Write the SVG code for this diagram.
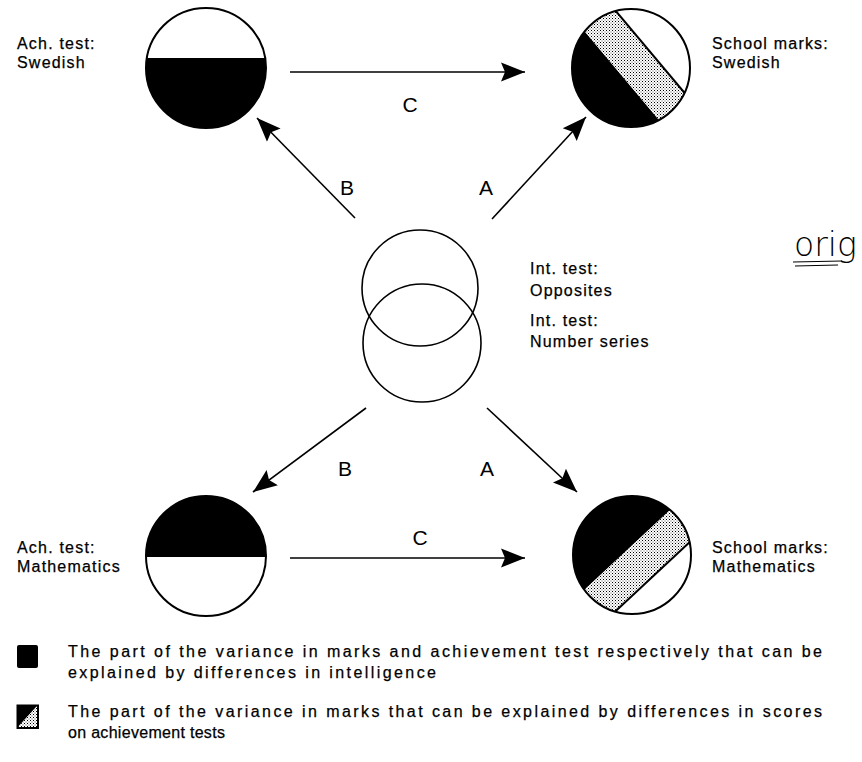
<svg xmlns="http://www.w3.org/2000/svg" width="862" height="762" viewBox="0 0 862 762">
<style>
  .lbl { font-family: "Liberation Sans", Arial, sans-serif; font-size: 16px; letter-spacing: 1.2px; fill: #000; stroke: #000; stroke-width: 0.25px; }
  .leg { font-family: "Liberation Sans", Arial, sans-serif; font-size: 16px; fill: #000; stroke: #000; stroke-width: 0.25px; }
  .let { font-family: "Liberation Sans", Arial, sans-serif; font-size: 21px; fill: #000; text-anchor: middle; }
  .ring { fill: none; stroke: #000; stroke-width: 2; }
  .thin { fill: none; stroke: #000; stroke-width: 1.6; }
  .conn { stroke: #000; stroke-width: 1.6; fill: none; marker-end: url(#head); }
  .div { stroke: #000; stroke-width: 2; }
</style>
<defs>
  <marker id="head" markerUnits="userSpaceOnUse" markerWidth="26" markerHeight="22" refX="24" refY="11" orient="auto">
    <path d="M0,1.5 L24,11 L0,20.5 L4,11 Z" fill="#000"/>
  </marker>
  <pattern id="dots" width="3" height="3" patternUnits="userSpaceOnUse">
    <rect width="3" height="3" fill="#fff"/>
    <rect x="0" y="0" width="1" height="1" fill="#000"/>
    <rect x="1.5" y="1.5" width="1" height="1" fill="#555"/>
  </pattern>
  <clipPath id="cTR"><circle cx="631" cy="68" r="59"/></clipPath>
  <clipPath id="cBR"><circle cx="632" cy="555" r="59"/></clipPath>
  <clipPath id="cTL"><circle cx="206" cy="68" r="60"/></clipPath>
  <clipPath id="cBL"><circle cx="206" cy="556" r="60"/></clipPath>
</defs>
<rect width="862" height="762" fill="#fff"/>

<g id="connectors">
  <line class="conn" x1="290" y1="72" x2="525" y2="72"/>
  <line class="conn" x1="355" y1="218" x2="257" y2="118"/>
  <line class="conn" x1="492" y1="219" x2="586" y2="117"/>
  <line class="conn" x1="366" y1="408" x2="253" y2="492"/>
  <line class="conn" x1="487" y1="408" x2="577" y2="492"/>
  <line class="conn" x1="290" y1="558" x2="525" y2="558"/>
  <text class="let" x="410" y="112">C</text>
  <text class="let" x="347" y="195">B</text>
  <text class="let" x="486" y="195">A</text>
  <text class="let" x="345" y="476">B</text>
  <text class="let" x="487" y="476">A</text>
  <text class="let" x="420" y="545">C</text>
</g>

<g id="ach-swedish">
  <g clip-path="url(#cTL)">
    <rect x="140" y="58" width="135" height="80" fill="#000"/>
  </g>
  <circle class="ring" cx="206" cy="68" r="60"/>
  <text class="lbl" x="17" y="49">Ach. test:</text>
  <text class="lbl" x="17" y="68">Swedish</text>
</g>

<g id="marks-swedish">
  <g clip-path="url(#cTR)">
    <polygon points="686.1,152.3 557.5,-0.9 490.1,55.7 618.7,208.9" fill="#000"/>
    <polygon points="686.1,152.3 557.5,-0.9 585.85,-24.7 714.45,128.5" fill="url(#dots)"/>
    <line class="div" x1="585.85" y1="-24.7" x2="714.45" y2="128.5"/>
  </g>
  <circle class="ring" cx="631" cy="68" r="59"/>
  <text class="lbl" x="712" y="49">School marks:</text>
  <text class="lbl" x="712" y="68">Swedish</text>
</g>

<g id="int-tests">
  <circle class="thin" cx="420" cy="288" r="58"/>
  <circle class="thin" cx="422" cy="343" r="59"/>
  <text class="lbl" x="530" y="274">Int. test:</text>
  <text class="lbl" x="530" y="296">Opposites</text>
  <text class="lbl" x="530" y="326">Int. test:</text>
  <text class="lbl" x="530" y="347">Number series</text>
</g>

<g id="ach-math">
  <g clip-path="url(#cBL)">
    <rect x="140" y="490" width="135" height="67" fill="#000"/>
  </g>
  <circle class="ring" cx="206" cy="556" r="60"/>
  <text class="lbl" x="17" y="553">Ach. test:</text>
  <text class="lbl" x="17" y="572">Mathematics</text>
</g>

<g id="marks-math">
  <g clip-path="url(#cBR)">
    <polygon points="700.2,481.9 554.2,617.9 491,550 637,414" fill="#000"/>
    <polygon points="700.2,481.9 554.2,617.9 579.4,644.9 725.4,508.9" fill="url(#dots)"/>
    <line class="div" x1="579.4" y1="644.9" x2="725.4" y2="508.9"/>
  </g>
  <circle class="ring" cx="632" cy="555" r="59"/>
  <text class="lbl" x="712" y="553">School marks:</text>
  <text class="lbl" x="712" y="572">Mathematics</text>
</g>

<g id="annotation">
  <text x="794" y="256" font-family="'DejaVu Sans', sans-serif" font-weight="200" font-size="33" fill="#000">orig</text>
  <path d="M793,262 L842,261 M795,266 L838,265" stroke="#000" stroke-width="1.2" fill="none"/>
</g>

<g id="legend">
  <rect x="17" y="645" width="21" height="23" rx="2" fill="#000"/>
  <text class="leg" x="68" y="657" textLength="754" lengthAdjust="spacing">The part of the variance in marks and achievement test respectively that can be</text>
  <text class="leg" x="68" y="678" textLength="368" lengthAdjust="spacing">explained by differences in intelligence</text>
  <polygon points="17,705 38,705 17,728" fill="#000"/>
  <polygon points="38,705 38,728 17,728" fill="url(#dots)"/>
  <rect x="17.5" y="705.5" width="20.5" height="22.5" fill="none" stroke="#000" stroke-width="2"/>
  <text class="leg" x="68" y="717" textLength="754" lengthAdjust="spacing">The part of the variance in marks that can be explained by differences in scores</text>
  <text class="leg" x="68" y="738" letter-spacing="0.3">on achievement tests</text>
</g>
</svg>
